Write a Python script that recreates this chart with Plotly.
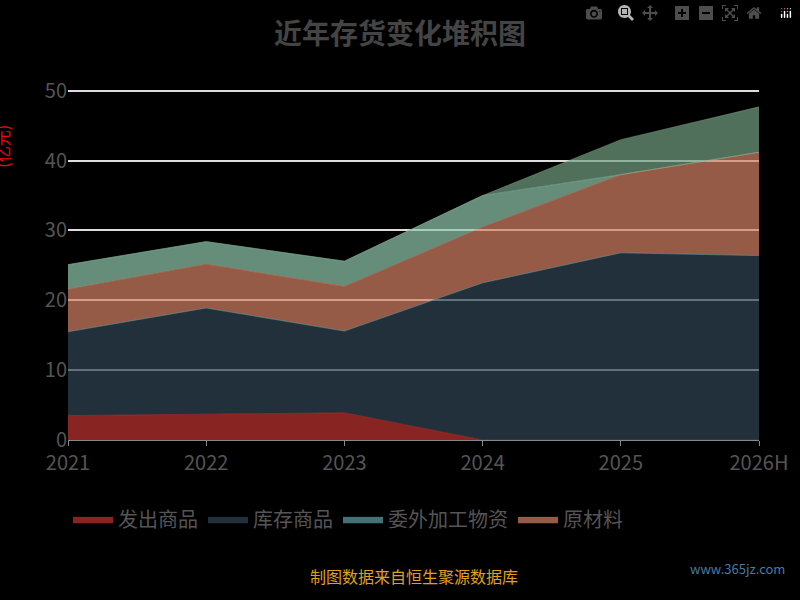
import plotly.graph_objects as go

years = ["2021", "2022", "2023", "2024", "2025", "2026H"]
names = ["发出商品", "库存商品", "委外加工物资", "原材料", "在产品", "周转材料"]
colors = ["#c23531", "#2f4554", "#61a0a8", "#d48265", "#91c7ae", "#749f83"]
fills = ["rgba(194,53,49,0.7)", "rgba(47,69,84,0.7)", "rgba(97,160,168,0.7)",
         "rgba(212,130,101,0.7)", "rgba(145,199,174,0.7)", "rgba(116,159,131,0.7)"]
v_fachu = [3.5, 3.7, 3.9, 0, 0, 0]
v_kucun = [12.0, 15.2, 11.7, 22.5, 26.8, 26.4]
v_weiwai = [0, 0, 0, 0, 0, 0]
v_yuancai = [6.1, 6.3, 6.4, 8.0, 11.2, 14.8]
v_zaichan = [3.5, 3.2, 3.6, 4.5, 0, 0]
v_zhouzhuan = [0, 0, 0, 0, 5.0, 6.5]
series = [v_fachu, v_kucun, v_weiwai, v_yuancai, v_zaichan, v_zhouzhuan]

fig = go.Figure()
for i, (n, v) in enumerate(zip(names, series)):
    fig.add_trace(go.Scatter(x=years, y=v, name=n, stackgroup="one", mode="lines",
                             line=dict(width=0.5, color=colors[i]), fillcolor=fills[i],
                             showlegend=i < 4))

fig.update_layout(
    width=800, height=600, paper_bgcolor="black", plot_bgcolor="black",
    margin=dict(l=68, r=32, t=88, b=160),
    font=dict(family="Noto Sans CJK SC", color="#555"),
    title=dict(text="<b>近年存货变化堆积图</b>", x=0.5, y=0.96, xanchor="center",
               font=dict(size=28, color="#444")),
    xaxis=dict(showgrid=False, range=[0, 5], showline=True, linecolor="#888",
               ticks="outside", tickcolor="#888", tickfont=dict(size=20, color="#555")),
    yaxis=dict(range=[0, 50.4], tickvals=[0, 10, 20, 30, 40, 50], gridcolor="#ddd",
               gridwidth=1.5, zeroline=False, tickfont=dict(size=20, color="#555")),
    legend=dict(orientation="h", x=0.0, y=-0.17, xanchor="left", traceorder="normal",
                font=dict(size=20, color="#555"), itemwidth=40),
    annotations=[
        dict(text="(亿元)", x=0.0, y=0.9, xref="paper", yref="paper", xanchor="right",
             xshift=-52, textangle=-90, showarrow=False, font=dict(size=16, color="red")),
        dict(text="制图数据来自恒生聚源数据库", x=0.5, y=0.0, xref="paper", yref="paper",
             yshift=-150, showarrow=False, font=dict(size=16, color="#e0a020")),
        dict(text="www.365jz.com", x=1.0, y=0.0, xref="paper", yref="paper", xshift=28,
             yshift=-140, xanchor="right", showarrow=False, font=dict(size=13, color="#4a7aa0")),
    ],
)
fig.write_html("out.html", post_script="document.body.style.margin='0';document.body.style.background='black';")
